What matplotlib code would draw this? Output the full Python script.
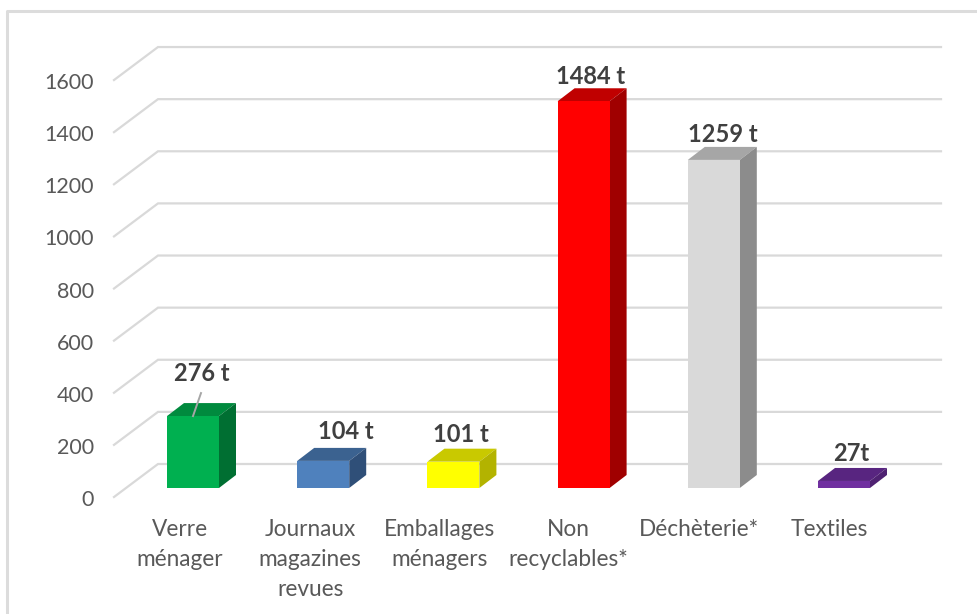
import matplotlib

matplotlib.use("Agg")
import matplotlib.pyplot as plt
from matplotlib.patches import Polygon

categories = [
    "Verre\nménager",
    "Journaux\nmagazines\nrevues",
    "Emballages\nménagers",
    "Non\nrecyclables*",
    "Déchèterie*",
    "Textiles",
]
values = [276, 104, 101, 1484, 1259, 27]
value_labels = ["276 t", "104 t", "101 t", "1484 t", "1259 t", "27t"]
y_ticks = [0, 200, 400, 600, 800, 1000, 1200, 1400, 1600]

front_colors = ["#00B050", "#4F81BD", "#FFFF00", "#FF0000", "#D9D9D9", "#7030A0"]
top_colors = ["#008A3E", "#3B6290", "#C9C900", "#C00000", "#A6A6A6", "#582580"]
side_colors = ["#006F32", "#2F4F78", "#B3B300", "#A00000", "#8C8C8C", "#4F2272"]

# layout of the picture, in pixels
WIDTH, HEIGHT = 978, 614
X0_PX, STEP_PX = 193, 130.2
Y0_PX, PX_PER_UNIT = 488, 0.2606
BAR_W = 52 / STEP_PX
DEPTH_X = 17 / STEP_PX
DEPTH_Y = 13 / PX_PER_UNIT
GRID = "#D9D9D9"
# pixel offsets of the value labels from the bar front top centre
label_offsets = [(9, 43), (23, 29), (7, 27), (7, 25), (9, 25), (7, 27)]
category_shift = [-13, -13, -14, -15, -15, -15]

plt.rcParams["font.family"] = ["Lato", "DejaVu Sans"]

fig = plt.figure(figsize=(WIDTH / 100, HEIGHT / 100), dpi=100)
ax = fig.add_axes([0, 0, 1, 1])
ax.set_xlim(-X0_PX / STEP_PX, (WIDTH - X0_PX) / STEP_PX)
ax.set_ylim((Y0_PX - HEIGHT) / PX_PER_UNIT, Y0_PX / PX_PER_UNIT)
ax.axis("off")


def px_x(px):
    return (px - X0_PX) / STEP_PX


def px_dy(px):
    return px / PX_PER_UNIT


# outer frame, only top and left show in the crop
ax.plot([px_x(7), px_x(7), px_x(WIDTH)], [-500, px_dy(Y0_PX - 11), px_dy(Y0_PX - 11)],
        color="#DCDCDC", lw=2.2, zorder=1)

# back wall gridlines with their diagonal part
for tick in y_ticks:
    y_front = tick - px_dy(9)
    y_back = tick + px_dy(24)
    ax.plot([px_x(114), px_x(158), px_x(941)], [y_front, y_back, y_back],
            color=GRID, lw=1.6, zorder=2, solid_joinstyle="miter")
    ax.annotate(str(tick), (px_x(94), y_front - px_dy(3)), ha="right", va="center",
                fontsize=15.5, color="#595959")

for i, value in enumerate(values):
    left = i - BAR_W / 2
    right = i + BAR_W / 2
    ax.add_patch(Polygon([(left, value), (right, value), (right + DEPTH_X, value + DEPTH_Y),
                          (left + DEPTH_X, value + DEPTH_Y)], fc=top_colors[i], ec="none", zorder=3))
    ax.add_patch(Polygon([(right, 0), (right + DEPTH_X, DEPTH_Y), (right + DEPTH_X, value + DEPTH_Y),
                          (right, value)], fc=side_colors[i], ec="none", zorder=3))
    ax.bar(i, value, width=BAR_W, color=front_colors[i], zorder=4)

    off_x, off_y = label_offsets[i]
    ax.annotate(value_labels[i], (i, value), xytext=(off_x, off_y), textcoords="offset pixels",
                ha="center", va="center", fontsize=17, fontweight="bold", color="#404040", zorder=6)
    ax.text(i + category_shift[i] / STEP_PX, -px_dy(31), categories[i], ha="center", va="top",
            fontsize=16.3, color="#595959", linespacing=1.52, zorder=6)

# leader line of the first label
ax.plot([0, px_x(201)], [values[0], values[0] + px_dy(23)], color="#A6A6A6", lw=1.4, zorder=5)

fig.savefig("out.png", dpi=100)
